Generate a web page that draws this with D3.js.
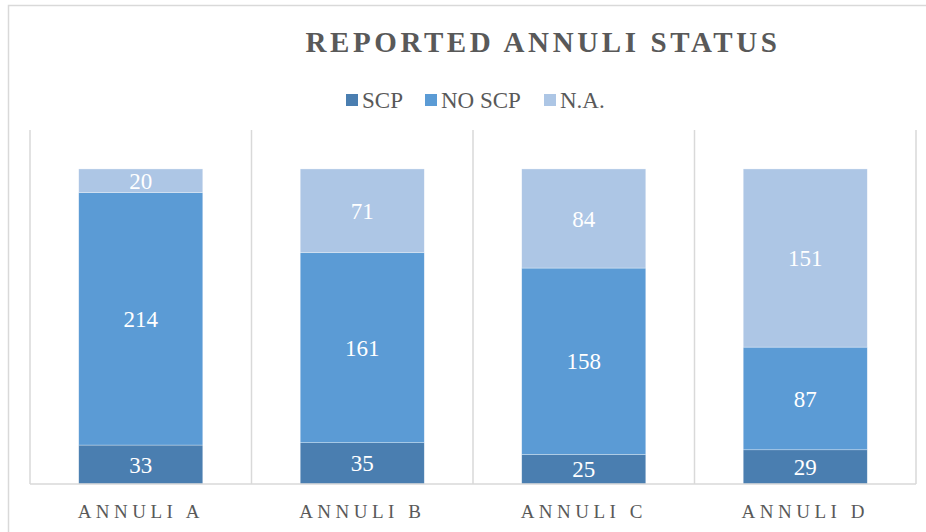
<!DOCTYPE html>
<html>
<head>
<meta charset="utf-8">
<script src="https://cdn.jsdelivr.net/npm/d3@7"></script>
<style>
  body { margin: 0; background: #fff; }
</style>
</head>
<body>
<div id="chart"></div>
<script>
// data
const categories = ["ANNULI A", "ANNULI B", "ANNULI C", "ANNULI D"];
const seriesNames = ["SCP", "NO SCP", "N.A."];
const scp = [33, 35, 25, 29];
const noScp = [214, 161, 158, 87];
const na = [20, 71, 84, 151];
const colors = ["#4a7eb0", "#5b9bd5", "#adc6e5"];

const W = 926, H = 532;
const plot = {left: 30, right: 916, top: 130, bottom: 484};
const serif = "'Liberation Serif', 'Times New Roman', Times, serif";

const svg = d3.select("#chart").append("svg")
  .attr("width", W).attr("height", H)
  .style("font-family", serif);

// outer chart border (runs off the right/bottom edges)
svg.append("rect")
  .attr("x", 8.5).attr("y", 5.5)
  .attr("width", W + 20).attr("height", H + 20)
  .attr("fill", "none").attr("stroke", "#d9d9d9").attr("stroke-width", 1.5);

// build rows for stack
const rows = categories.map((c, i) => ({cat: c, "SCP": scp[i], "NO SCP": noScp[i], "N.A.": na[i]}));
const stacked = d3.stack().keys(seriesNames)(rows);

const x = d3.scaleBand()
  .domain(categories)
  .range([plot.left, plot.right])
  .paddingInner(0.44)
  .paddingOuter(0.22);

const y = d3.scaleLinear()
  .domain([0, 300])
  .range([plot.bottom, plot.top]);

const color = d3.scaleOrdinal(seriesNames, colors);

// category separators
const step = x.step();
const seps = d3.range(categories.length + 1).map(i => plot.left + i * step);
svg.append("g").selectAll("line")
  .data(seps)
  .enter().append("line")
  .attr("x1", d => d).attr("x2", d => d)
  .attr("y1", plot.top).attr("y2", plot.bottom)
  .attr("stroke", "#d9d9d9").attr("stroke-width", 1.5);

// bars
const layer = svg.append("g").selectAll("g")
  .data(stacked)
  .enter().append("g")
  .attr("fill", d => color(d.key));

layer.selectAll("rect")
  .data(d => d)
  .enter().append("rect")
  .attr("x", d => x(d.data.cat))
  .attr("y", d => y(d[1]))
  .attr("width", x.bandwidth())
  .attr("height", d => y(d[0]) - y(d[1]))
  .attr("stroke", "#fff").attr("stroke-width", 0.6).attr("stroke-opacity", 0.5);

// value labels
layer.selectAll("text")
  .data(d => d)
  .enter().append("text")
  .attr("x", d => x(d.data.cat) + x.bandwidth() / 2)
  .attr("y", d => (y(d[0]) + y(d[1])) / 2)
  .attr("dy", "0.35em")
  .attr("text-anchor", "middle")
  .attr("fill", "#fff")
  .style("font-size", "23px")
  .text(d => d[1] - d[0]);

// bottom axis line
svg.append("line")
  .attr("x1", plot.left).attr("x2", plot.right)
  .attr("y1", plot.bottom).attr("y2", plot.bottom)
  .attr("stroke", "#d9d9d9").attr("stroke-width", 1.5);

// category labels
const xAxis = d3.axisBottom(x).tickSize(0).tickPadding(0);
const ax = svg.append("g")
  .attr("transform", `translate(0,${plot.bottom})`)
  .call(xAxis);
ax.select(".domain").remove();
ax.selectAll(".tick text")
  .attr("y", 34)
  .attr("dy", 0)
  .attr("fill", "#595959")
  .style("font-family", serif)
  .style("font-size", "19px")
  .style("letter-spacing", "4.5px");

// title
svg.append("text")
  .attr("x", 543).attr("y", 52)
  .attr("text-anchor", "middle")
  .attr("fill", "#595959")
  .style("font-size", "29px")
  .style("font-weight", "bold")
  .style("letter-spacing", "3.6px")
  .text("REPORTED ANNULI STATUS");

// legend
const legendX = [346, 425, 544];
const legend = svg.append("g").selectAll("g")
  .data(seriesNames)
  .enter().append("g")
  .attr("transform", (d, i) => `translate(${legendX[i]},100)`);
legend.append("rect")
  .attr("x", 0).attr("y", -6)
  .attr("width", 12).attr("height", 12)
  .attr("fill", d => color(d));
legend.append("text")
  .attr("x", 16).attr("dy", "0.35em")
  .attr("fill", "#595959")
  .style("font-size", "23px")
  .text(d => d);
</script>
</body>
</html>
